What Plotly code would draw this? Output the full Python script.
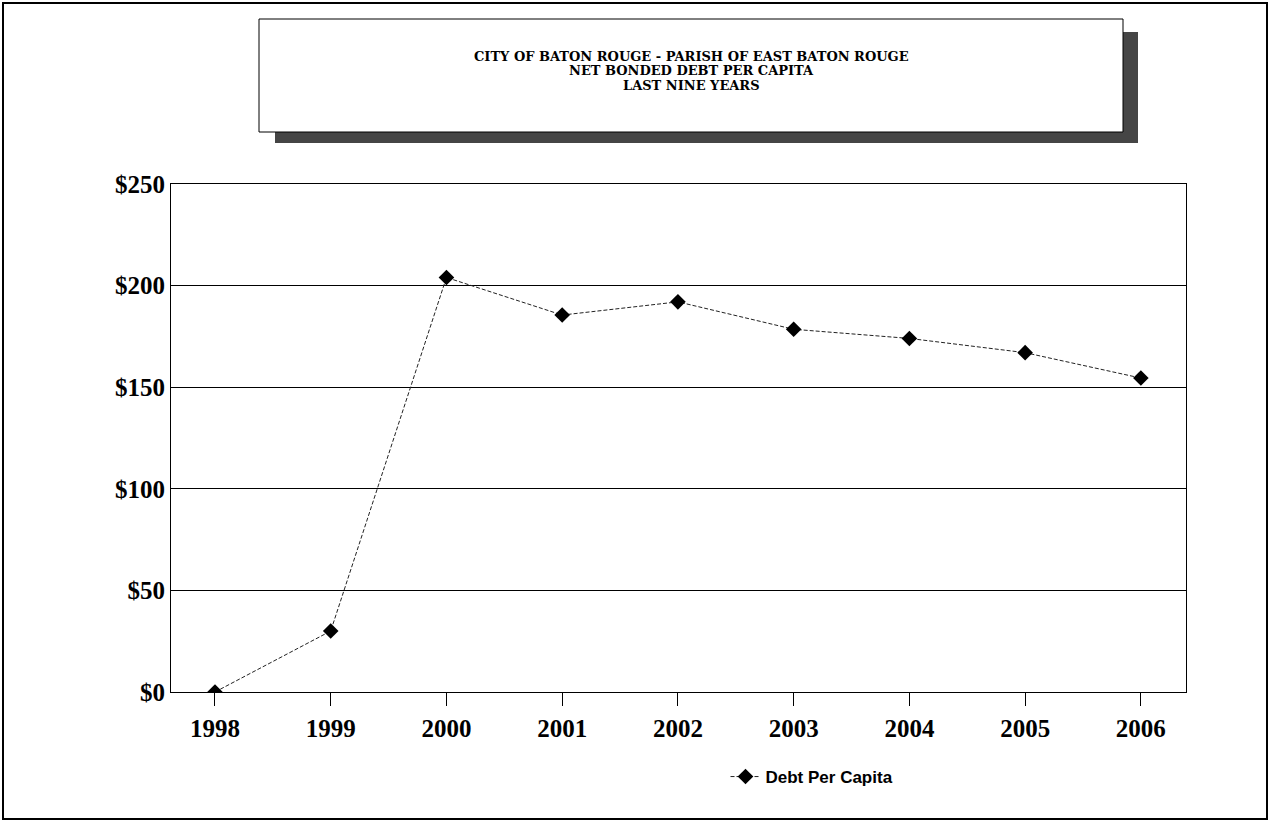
"""Net bonded debt per capita chart, Baton Rouge."""
import plotly.graph_objects as go

years = [1998, 1999, 2000, 2001, 2002, 2003, 2004, 2005, 2006]
debt_per_capita = [0, 30, 204, 185.5, 192, 178.5, 174, 167, 154.5]
y_ticks = [0, 50, 100, 150, 200, 250]
y_labels = ["$0", "$50", "$100", "$150", "$200", "$250"]
title_lines = [
    "CITY OF BATON ROUGE - PARISH OF EAST BATON ROUGE",
    "NET BONDED DEBT PER CAPITA",
    "LAST NINE YEARS",
]

W, H = 1270, 835
L, R, T, B = 171, 1186, 184, 692


def px(x, y):
    # pixel -> paper coordinates
    return (x - L) / (R - L), (B - y) / (B - T)


serif = dict(family="Liberation Serif, Times New Roman, serif", size=25, color="black", weight="bold")

fig = go.Figure()
fig.add_trace(go.Scatter(
    x=years, y=debt_per_capita, mode="lines+markers", name="Debt Per Capita",
    line=dict(color="#222222", width=1, dash="4px,2px"),
    marker=dict(symbol="diamond", size=12, color="black"),
))

# outer frame, title box with shadow
shapes = []
x0, y0 = px(3, 3)
x1, y1 = px(1267, 819)
shapes.append(dict(type="rect", xref="paper", yref="paper", x0=x0, y0=y0, x1=x1, y1=y1,
                   line=dict(color="black", width=2), layer="below"))
x0, y0 = px(275, 32)
x1, y1 = px(1138, 143)
shapes.append(dict(type="rect", xref="paper", yref="paper", x0=x0, y0=y0, x1=x1, y1=y1,
                   line=dict(width=0), fillcolor="#454545", layer="below"))
x0, y0 = px(259, 19)
x1, y1 = px(1123, 132)
shapes.append(dict(type="rect", xref="paper", yref="paper", x0=x0, y0=y0, x1=x1, y1=y1,
                   line=dict(color="black", width=1), fillcolor="white", layer="below"))

# title, one annotation per line to get the tight line spacing
for i, line in enumerate(title_lines):
    tx, ty = px(691, 56 + 15 * i)
    fig.add_annotation(
        x=tx, y=ty, xref="paper", yref="paper", showarrow=False,
        xanchor="center", yanchor="middle", text=line,
        font=dict(family="DejaVu Serif, serif", size=13, color="black", weight="bold"),
    )

lx, ly = px(812, 777)
fig.update_layout(
    width=W, height=H,
    margin=dict(l=L, r=W - R, t=T, b=H - B, pad=0),
    paper_bgcolor="white", plot_bgcolor="white",
    shapes=shapes,
    showlegend=True,
    legend=dict(x=lx, y=ly, xanchor="center", yanchor="middle", orientation="h",
                font=dict(family="Liberation Sans, Arial, sans-serif", size=17, color="black", weight="bold"),
                bgcolor="rgba(0,0,0,0)"),
)
fig.update_xaxes(
    range=[1997.62, 2006.39], tickmode="array", tickvals=years,
    ticktext=[str(y) for y in years], ticks="outside", ticklen=13, tickcolor="black",
    ticklabelstandoff=1, tickfont=serif, showgrid=False, zeroline=False,
    showline=True, linecolor="black", linewidth=1, mirror=True,
)
fig.update_yaxes(
    range=[0, 250], tickmode="array", tickvals=y_ticks, ticktext=y_labels,
    tickfont=serif, showgrid=True, gridcolor="black", gridwidth=1, zeroline=False,
    showline=True, linecolor="black", linewidth=1, mirror=True, ticks="", ticklabelstandoff=0,
)

# drop the default page margin so the figure sits at the window origin
fig.write_html("out.html", config={"displayModeBar": False},
               post_script="document.body.style.margin='0';")
